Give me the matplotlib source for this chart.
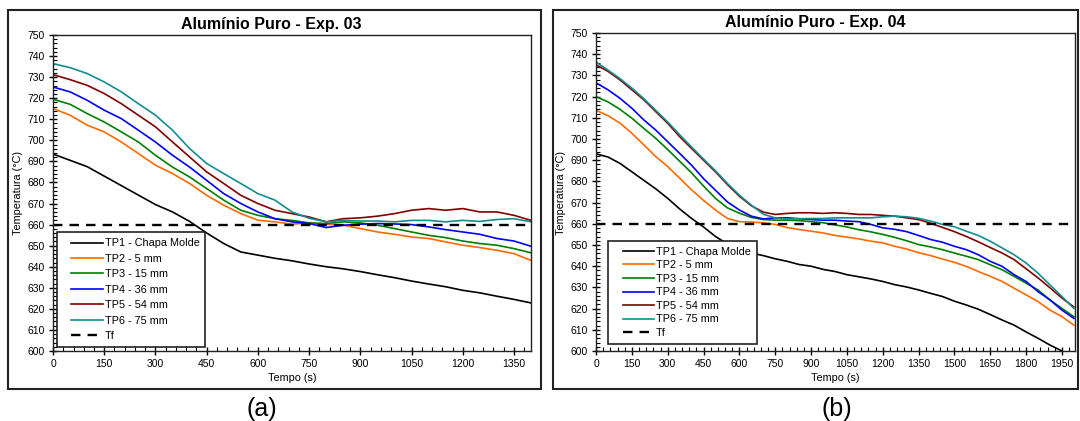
import matplotlib
matplotlib.use('Agg')
import matplotlib.pyplot as plt
from matplotlib.patches import Rectangle
from matplotlib.ticker import MultipleLocator
from matplotlib.legend_handler import HandlerLine2D
from matplotlib.lines import Line2D
import numpy as np

plt.rcParams['font.family'] = ['Liberation Sans', 'DejaVu Sans']

# Exp. 03 (every 50 s, 0..1400 s)
time_03 = list(range(0, 1401, 50))
tp1_03 = [693.5, 690.5, 687.5, 683, 678.5, 674, 669.5, 666, 661.5, 656, 651, 647, 645.5, 644, 642.8,
          641.3, 640, 639, 637.7, 636.2, 634.8, 633.2, 631.8, 630.5, 628.8, 627.6, 626, 624.5, 622.8]
tp2_03 = [715.1, 711.9, 707.2, 704, 699.2, 693.7, 688.2, 684.2, 679.5, 673.9, 669.2, 665.2, 662.1, 661.3, 660.2,
          660.8, 660.2, 659.7, 658.1, 656.5, 655.4, 654.1, 653.4, 651.8, 650.2, 649.1, 647.8, 646.2, 643]
tp3_03 = [719.5, 717.1, 712.7, 708.7, 704, 699.2, 692.9, 687.3, 682.6, 677.1, 671.6, 666.8, 664.4, 662.8, 662,
          660.8, 660.5, 661.3, 660.8, 659.7, 658.1, 656.5, 654.9, 653.8, 652.2, 651, 650.2, 648.6, 646.6]
tp4_03 = [725.3, 723, 719, 714.3, 710.3, 704.8, 699.2, 692.9, 687.3, 681, 674.7, 670, 666, 662.8, 661.3,
          660.5, 658.6, 659.7, 660.2, 660.5, 660.3, 660, 658.9, 657.6, 656.5, 655.4, 653.4, 652.2, 649.7]
tp5_03 = [731.2, 728.8, 726.1, 722.2, 717.4, 711.9, 706.4, 699.2, 692.1, 685, 679.5, 673.9, 670, 666.8, 665.2,
          663.6, 661.3, 662.8, 663.2, 664, 665.2, 666.8, 667.6, 666.8, 667.6, 666, 666, 664.4, 662]
tp6_03 = [736.4, 734.5, 731.7, 727.7, 723, 717.4, 711.9, 704.8, 696.1, 689, 684.2, 679.5, 674.7, 671.6, 666,
          663, 661.3, 662, 661.7, 661.7, 661.3, 662, 662, 661.3, 662, 661.5, 662.4, 662.8, 661.3]

# Exp. 04 (every 50 s, 0..2000 s; TP1 leaves the axis at 1950 s)
time_04 = list(range(0, 2001, 50))
tp1_04 = [693, 691.5, 688.5, 684.5, 680.5, 676.5, 672, 667, 662.5, 658.5, 654, 650.5, 648, 646.2, 645,
          643.5, 642.3, 640.8, 640, 638.5, 637.5, 636, 635, 634, 632.8, 631.3, 630.2, 628.8, 627.2, 625.7,
          623.5, 621.7, 619.7, 617.2, 614.6, 612.2, 609, 606, 602.8, 600]
tp2_04 = [713.5, 711, 707.5, 702.7, 697.2, 691.7, 687, 681.5, 676, 671, 666.5, 662.5, 661, 660.8, 660.5,
          659.7, 658.2, 657.3, 656.5, 655.7, 654.5, 653.7, 652.9, 651.8, 651, 649.4, 648.1, 646.4, 645, 643.4,
          641.8, 639.9, 637.5, 635.2, 632.8, 629.6, 626.5, 623.3, 619.3, 616.2, 612.2]
tp3_04 = [720, 717.5, 714, 709.8, 705, 700.3, 695, 689.5, 684, 677.8, 672, 667.5, 665, 663, 662,
          661.7, 661.7, 661.5, 661, 660.5, 659.5, 658.5, 657.2, 656.2, 655, 653.6, 652, 650.2, 649.1, 647.8,
          646.2, 644.7, 643.1, 640.7, 638.3, 635.2, 632, 628.8, 624.1, 620.1, 616.2]
tp4_04 = [726.5, 723.2, 719.2, 714.5, 709, 704.2, 698.7, 693.2, 687.6, 681.3, 675.8, 670.3, 666.5, 663.6, 662.3,
          662.8, 662.8, 662.4, 662, 661.7, 661.7, 661.3, 661, 659.7, 658.1, 657.4, 656.3, 654.5, 652.6, 651.3,
          649.4, 647.8, 645.4, 642.3, 639.9, 636, 632.8, 628, 624.1, 619.3, 615.4]
tp5_04 = [735, 731.9, 727.9, 723.2, 718.5, 712.9, 707.4, 701.1, 695.5, 690, 684.5, 678.5, 673, 668.5, 665.5,
          664.4, 664.9, 665.2, 665.2, 664.9, 665.2, 664.9, 664.4, 664.4, 664, 663.6, 662.8, 662, 660.3, 658.3,
          656.3, 654, 651.5, 648.8, 646.2, 643.1, 638.8, 634.5, 629.8, 625, 620.8]
tp6_04 = [736.3, 732.5, 728.5, 724, 719, 713.5, 708, 702, 696.2, 690.5, 685, 679, 673.5, 668.8, 664.5,
          662.8, 662.2, 662.4, 662.5, 662.5, 662.8, 662.8, 662.8, 662.8, 663.3, 663.6, 663.3, 662.6, 661.3, 659.7,
          658.6, 656.5, 654.5, 651.8, 648.6, 645.4, 641.5, 636.7, 631.2, 625.7, 620.1]

t_fusao = 660
labels = ['TP1 - Chapa Molde', 'TP2 - 5 mm', 'TP3 - 15 mm', 'TP4 - 36 mm', 'TP5 - 54 mm', 'TP6 - 75 mm']
colors = ['black', '#FF6A00', '#008000', '#0000FF', '#800000', '#138D8D']


def draw_panel(ax, t, series, xmax, leg_anchor, leg_spacing):
    for y, lab, c in zip(series, labels, colors):
        ax.plot(t[:len(y)], y, color=c, lw=1.2, label=lab)
    ax.axhline(t_fusao, color='black', lw=1.7, dashes=(4, 3), label='Tf')

    ax.set_xlim(0, xmax)
    ax.set_ylim(600, 750)
    ax.xaxis.set_major_locator(MultipleLocator(150))
    ax.xaxis.set_minor_locator(MultipleLocator(30))
    ax.yaxis.set_major_locator(MultipleLocator(10))
    ax.yaxis.set_minor_locator(MultipleLocator(2))
    ax.tick_params(which='major', direction='inout', length=6, width=1, labelsize=7.5, pad=3)
    ax.tick_params(which='minor', direction='in', length=3, width=0.8)
    for s in ax.spines.values():
        s.set_linewidth(1)
        s.set_color('#222222')

    # pad the handles on the left like the original legend box
    leg = ax.legend(loc='lower left', bbox_to_anchor=leg_anchor, borderaxespad=0, fontsize=7.8,
                    handlelength=3.7, handletextpad=0.15, labelspacing=leg_spacing,
                    handler_map={Line2D: HandlerLine2D(xpad=0.8)},
                    fancybox=False, framealpha=1, edgecolor='#222222', borderpad=0.55)
    leg.get_frame().set_linewidth(1.2)


fig = plt.figure(figsize=(10.8, 4.21), dpi=100)

ax1 = fig.add_axes([0.0491, 0.1663, 0.4426, 0.7506])
draw_panel(ax1, time_03, [tp1_03, tp2_03, tp3_03, tp4_03, tp5_03, tp6_03], 1400, (0.008, 0.013), 0.5)

ax2 = fig.add_axes([0.5519, 0.1663, 0.4435, 0.7553])
draw_panel(ax2, time_04, [tp1_04, tp2_04, tp3_04, tp4_04, tp5_04, tp6_04], 2005, (0.025, 0.022), 0.33)

# titles, axis labels, panel letters
fig.text(0.251, 0.942, 'Alumínio Puro - Exp. 03', ha='center', va='center', fontsize=11.5, fontweight='bold')
fig.text(0.7546, 0.946, 'Alumínio Puro - Exp. 04', ha='center', va='center', fontsize=11.5, fontweight='bold')
fig.text(0.271, 0.102, 'Tempo (s)', ha='center', va='center', fontsize=7.8)
fig.text(0.7736, 0.102, 'Tempo (s)', ha='center', va='center', fontsize=7.8)
fig.text(0.0167, 0.5416, 'Temperatura (°C)', ha='center', va='center', rotation=90, fontsize=7.8)
fig.text(0.5198, 0.5416, 'Temperatura (°C)', ha='center', va='center', rotation=90, fontsize=7.8)
fig.text(0.2426, 0.028, '(a)', ha='center', va='center', fontsize=18)
fig.text(0.775, 0.028, '(b)', ha='center', va='center', fontsize=18)

# outer frames around each panel
fig.add_artist(Rectangle((0.0074, 0.076), 0.4935, 0.900, transform=fig.transFigure,
                         fill=False, lw=1.5, ec='#222222'))
fig.add_artist(Rectangle((0.512, 0.076), 0.486, 0.900, transform=fig.transFigure,
                         fill=False, lw=1.5, ec='#222222'))

fig.savefig('out.png', dpi=100)
